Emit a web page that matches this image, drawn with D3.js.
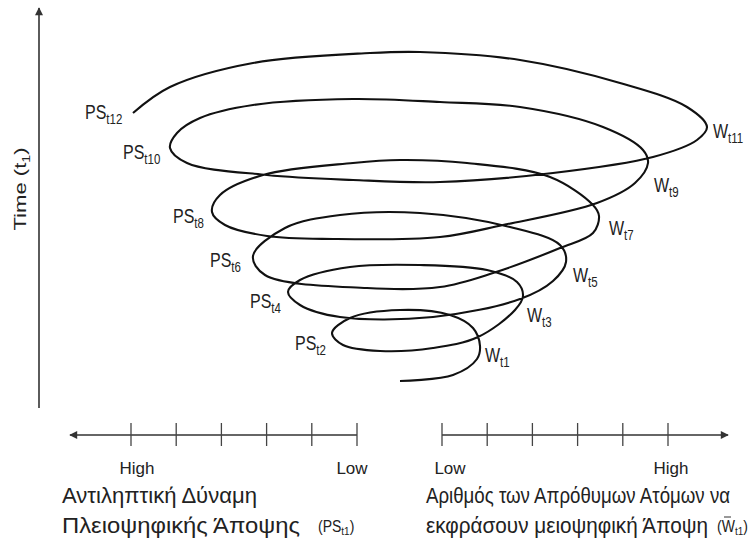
<!DOCTYPE html>
<html>
<head>
<meta charset="utf-8">
<script src="https://cdn.jsdelivr.net/npm/d3@7"></script>
<style>
  html, body { margin: 0; padding: 0; background: #fff; }
  svg text { font-family: "Liberation Sans", Arial, sans-serif; fill: #222; }
</style>
</head>
<body>
<div id="chart"></div>
<script>
'use strict'

// spiral: x = position left/right of centre, t = time (height)
var spiralX = [-5, 48, 72, 75, 68, 45, -5, -55, -73, -62, -25, 28, 73, 110, 118, 112, 82, 15, -55, -105,
  -117, -105, -65, 28, 115, 148, 161, 155, 105, 15, -65, -120, -152, -140, -38, 35, 88, 155, 188, 194,
  188, 145, 62, -5, -52, -142, -185, -193, -180, -138, -72, 35, 98, 192, 230, 243, 238, 198, 115, 35,
  -52, -152, -205, -228, -235, -218, -138, -52, 35, 148, 248, 292, 302, 282, 215, 115, 15, -35, -152, -235, -272];
var spiralT = [9, 15, 31, 44, 62, 75, 80, 72, 57, 45, 39, 42, 53, 80, 94, 108, 120, 125, 123, 110,
  98, 85, 73, 73, 91, 109, 128, 145, 163, 177, 175, 162, 134, 115, 102, 103, 117, 142, 157, 174,
  185, 213, 227, 230, 227, 215, 195, 178, 165, 154, 151, 153, 165, 187, 207, 227, 240, 263, 283, 288,
  291, 285, 272, 257, 242, 227, 215, 210, 208, 217, 233, 250, 263, 283, 307, 330, 338, 337, 327, 303, 277];

// turning-point labels
var labelMain = ["W", "PS", "W", "PS", "W", "PS", "W", "PS", "W", "PS", "W", "PS"];
var labelSub = ["t1", "t2", "t3", "t4", "t5", "t6", "t7", "t8", "t9", "t10", "t11", "t12"];
var labelX = [80, -110, 122, -155, 168, -195, 204, -232, 249, -282, 308, -320];
var labelT = [28, 40, 68, 82, 108, 123, 155, 167, 198, 231, 252, 271];

// the two scales below the spiral
var scaleSteps = [0, 1, 2, 3, 4, 5];
var scaleEnds = [{v: 5, text: "High"}, {v: 0, text: "Low"}];
var leftTitle = ["Αντιληπτική Δύναμη", "Πλειοψηφικής Άποψης"];
var rightTitle = ["Αριθμός των Απρόθυμων Ατόμων να", "εκφράσουν μειοψηφική Άποψη"];

var width = 748, height = 539;

var svg = d3.select("#chart").append("svg")
    .attr("width", width)
    .attr("height", height);

var defs = svg.append("defs");
defs.append("marker")
    .attr("id", "arrow")
    .attr("viewBox", "0 0 10 10")
    .attr("refX", 9).attr("refY", 5)
    .attr("markerWidth", 11).attr("markerHeight", 8)
    .attr("markerUnits", "userSpaceOnUse")
    .attr("orient", "auto")
    .append("path")
    .attr("d", "M0,0L10,5L0,10z")
    .attr("fill", "#333");

var x = d3.scaleLinear().domain([-300, 300]).range([105, 705]);
var y = d3.scaleLinear().domain([0, 340]).range([390, 50]);

//time axis
svg.append("line")
    .attr("x1", 39).attr("y1", 408)
    .attr("x2", 39).attr("y2", 8)
    .attr("stroke", "#333").attr("stroke-width", 1.6)
    .attr("marker-end", "url(#arrow)");

var timeLabel = svg.append("text")
    .attr("transform", "translate(26,189) rotate(-90) scale(1.3,1)")
    .attr("text-anchor", "middle")
    .attr("font-size", 17)
    .text("Time (t");
timeLabel.append("tspan").attr("font-size", 11).attr("dy", 4).text("1");
timeLabel.append("tspan").attr("dy", -4).text(")");

//spiral
var spiral = d3.line()
    .x(function(d, i){ return x(spiralX[i]); })
    .y(function(d, i){ return y(spiralT[i]); })
    .curve(d3.curveCatmullRom.alpha(0.5));

svg.append("path")
    .attr("d", spiral(spiralX))
    .attr("fill", "none")
    .attr("stroke", "#111")
    .attr("stroke-width", 2.1);

var labels = svg.append("g").selectAll("text")
    .data(labelMain)
    .enter()
    .append("text")
    .attr("transform", function(d, i){
        return "translate(" + x(labelX[i]) + "," + y(labelT[i]) + ") scale(1,1.25)";
    })
    .attr("font-size", 16)
    .text(function(d){ return d; });

labels.append("tspan")
    .attr("font-size", 11.5)
    .attr("dy", 4)
    .text(function(d, i){ return labelSub[i]; });

//bottom scales
var leftScale = d3.scaleLinear().domain([5, 0]).range([131, 357]);
var rightScale = d3.scaleLinear().domain([0, 5]).range([442, 668]);
var axisY = 435;

function drawScale(sc, x1, x2, shiftHigh, shiftLow) {
    var g = svg.append("g");
    g.append("line")
        .attr("x1", x1).attr("y1", axisY)
        .attr("x2", x2).attr("y2", axisY)
        .attr("stroke", "#333").attr("stroke-width", 1.5)
        .attr("marker-end", "url(#arrow)");
    g.selectAll(".tick")
        .data(scaleSteps)
        .enter()
        .append("line")
        .attr("class", "tick")
        .attr("x1", function(d){ return sc(d); })
        .attr("x2", function(d){ return sc(d); })
        .attr("y1", axisY - 12).attr("y2", axisY + 11)
        .attr("stroke", "#444").attr("stroke-width", 1.3);
    g.selectAll(".end")
        .data(scaleEnds)
        .enter()
        .append("text")
        .attr("class", "end")
        .attr("x", function(d){ return sc(d.v) + (d.v === 5 ? shiftHigh : shiftLow); })
        .attr("y", 474)
        .attr("text-anchor", "middle")
        .attr("font-size", 17)
        .text(function(d){ return d.text; });
}

drawScale(leftScale, 357, 70, 6, -5);
drawScale(rightScale, 442, 728, 3, 8);

// widths of the two title lines as they sit in the picture
function drawTitle(lines, x0, lens, subMain, subX, bar) {
    var t = svg.append("g");
    t.selectAll("text")
        .data(lines)
        .enter()
        .append("text")
        .attr("transform", function(d, i){ return "translate(" + x0 + "," + (503 + i * 30) + ") scale(1,1.12)"; })
        .attr("font-size", 19)
        .attr("textLength", function(d, i){ return lens[i]; })
        .attr("lengthAdjust", "spacingAndGlyphs")
        .text(function(d){ return d; });
    var sub = t.append("text")
        .attr("transform", "translate(" + subX + ",532) scale(1,1.12)")
        .attr("font-size", 14)
        .text("(" + subMain);
    sub.append("tspan").attr("font-size", 10).attr("dy", 3).text("t1");
    sub.append("tspan").attr("dy", -3).text(")");
    //small bar over the W
    if (bar) {
        t.append("line")
            .attr("x1", subX + 7).attr("x2", subX + 14)
            .attr("y1", 517).attr("y2", 517)
            .attr("stroke", "#333").attr("stroke-width", 1);
    }
}

drawTitle(leftTitle, 62, [195, 238], "PS", 318, false);
drawTitle(rightTitle, 426, [304, 282], "W", 717, true);
</script>
</body>
</html>
